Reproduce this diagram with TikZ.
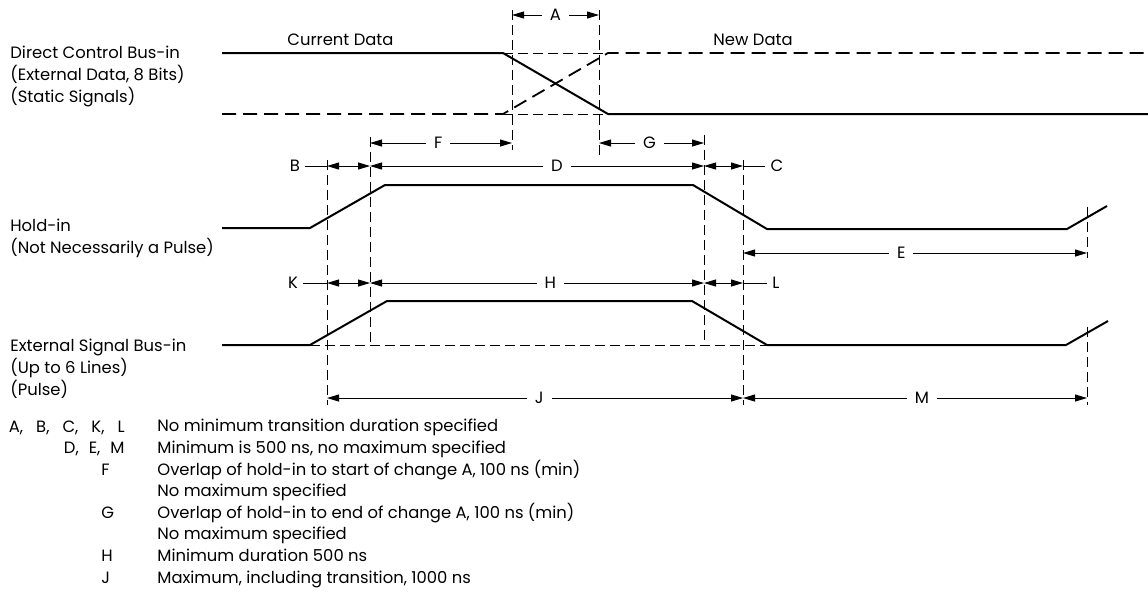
\documentclass[tikz,border=0pt]{standalone}
\usepackage{fontspec}
\setmainfont{Poppins}
\usetikzlibrary{arrows.meta,positioning}

\begin{document}
\begin{tikzpicture}[x=0.5pt,y=-0.5pt,
    sig/.style={line width=1pt, line join=round},
    sigdash/.style={line width=0.9pt, dash pattern=on 7pt off 3.5pt},
    guide/.style={line width=0.5pt, dash pattern=on 5pt off 2.5pt},
    dim/.style={line width=0.5pt, {Triangle[length=6pt,width=3.5pt]}-{Triangle[length=6pt,width=3.5pt]}},
    lead/.style={line width=0.5pt},
    dimlbl/.style={fill=white, inner sep=4pt, font=\fontsize{8.2}{9}\selectfont},
    lbl/.style={inner sep=2.5pt, font=\fontsize{8.2}{9}\selectfont},
    txt/.style={inner sep=0pt, font=\fontsize{8.2}{11}\selectfont, align=left}]

    \useasboundingbox (0,0) rectangle (1148,602);

    % signal names
    \node[txt, anchor=north west] (dcb) at (10,46) {Direct Control Bus-in\\(External Data, 8 Bits)\\(Static Signals)};
    \node[txt, anchor=north west] (hold) at (10,219) {Hold-in\\(Not Necessarily a Pulse)};
    \node[txt, anchor=north west] (esb) at (10,339) {External Signal Bus-in\\(Up to 6 Lines)\\(Pulse)};
    \node[txt, anchor=base west] (cur) at (287,45) {Current Data};
    \node[txt, anchor=base west] (new) at (713,45) {New Data};

    % direct control bus-in
    \draw[sig] (222,53) -- (503,53) -- (608,114) -- (1148,114);
    \draw[sigdash] (222,114) -- (503,114) -- (608,53) -- (1146,53);
    \draw[guide] (503,53) -- (608,53);
    \draw[guide] (503,114) -- (608,114);

    % hold-in
    \draw[sig] (222,228) -- (310,228) -- (385,185) -- (693,185) -- (767,229) -- (1067,229) -- (1107,206);

    % external signal bus-in
    \draw[sig] (222,345) -- (310,345) -- (387,301) -- (692,301) -- (767,345) -- (1066,345) -- (1108,321);
    \draw[guide] (310,345) -- (767,345);

    % guide lines
    \draw[guide] (512,10) -- (512,150);
    \draw[guide] (599,10) -- (599,157);
    \draw[guide] (370,137) -- (370,345);
    \draw[guide] (704,135) -- (704,345);
    \draw[guide] (327,160) -- (327,405);
    \draw[guide] (743,160) -- (743,405);
    \draw[guide] (1087,207) -- (1087,258);
    \draw[guide] (1087,327) -- (1087,405);

    % dimension points
    \coordinate (a1) at (512,15);  \coordinate (a2) at (599,15);
    \coordinate (f1) at (370,143); \coordinate (f2) at (512,143);
    \coordinate (g1) at (599,143); \coordinate (g2) at (704,143);
    \coordinate (b1) at (327,166); \coordinate (b2) at (370,166);
    \coordinate (d2) at (704,166); \coordinate (c2) at (743,166);
    \coordinate (e1) at (743,253); \coordinate (e2) at (1087,253);
    \coordinate (k1) at (327,283); \coordinate (k2) at (370,283);
    \coordinate (h2) at (704,283); \coordinate (l2) at (743,283);
    \coordinate (j1) at (327,398); \coordinate (j2) at (743,398);
    \coordinate (m2) at (1087,398);

    % dimensions
    \draw[dim] (a1) -- node[dimlbl] {A} (a2);
    \draw[dim] (f1) -- node[dimlbl, pos=0.48] {F} (f2);
    \draw[dim] (g1) -- node[dimlbl, pos=0.48] {G} (g2);
    \draw[dim] (b1) -- (b2);
    \draw[dim] (b2) -- node[dimlbl, pos=0.56] {D} (d2);
    \draw[dim] (d2) -- (c2);
    \draw[dim] (e1) -- node[dimlbl, pos=0.46] {E} (e2);
    \draw[dim] (k1) -- (k2);
    \draw[dim] (k2) -- node[dimlbl, pos=0.54] {H} (h2);
    \draw[dim] (h2) -- (l2);
    \draw[dim] (j1) -- node[dimlbl, pos=0.51] {J} (j2);
    \draw[dim] (j2) -- node[dimlbl, pos=0.52] {M} (m2);

    % side labels with leaders
    \node[lbl] (blbl) at (295,166) {B};
    \node[lbl] (clbl) at (777,166) {C};
    \node[lbl] (klbl) at (293,283) {K};
    \node[lbl] (llbl) at (776,283) {L};
    \draw[lead] (blbl) -- (b1);
    \draw[lead] (c2) -- (clbl);
    \draw[lead] (klbl) -- (k1);
    \draw[lead] (l2) -- (llbl);

    % notes
    \node[txt, anchor=base east] (n1) at (125,432) {A,\hspace{6.5pt}B,\hspace{6.5pt}C,\hspace{6.5pt}K,\hspace{6.5pt}L};
    \node[txt, anchor=base east] (n2) at (125,453.6) {D,\hspace{5pt}E,\hspace{5pt}M};
    \node[txt, anchor=base west] (n3) at (101,475.2) {F};
    \node[txt, anchor=base west] (n5) at (101,518.4) {G};
    \node[txt, anchor=base west] (n7) at (101,561.6) {H};
    \node[txt, anchor=base west] (n8) at (101,583.2) {J};
    \node[txt, anchor=north west, font=\fontsize{8.2}{10.8}\selectfont] (notes) at (157,419) {No minimum transition duration specified\\
        Minimum is 500 ns, no maximum specified\\
        Overlap of hold-in to start of change A, 100 ns (min)\\
        No maximum specified\\
        Overlap of hold-in to end of change A, 100 ns (min)\\
        No maximum specified\\
        Minimum duration 500 ns\\
        Maximum, including transition, 1000 ns};
\end{tikzpicture}
\end{document}
